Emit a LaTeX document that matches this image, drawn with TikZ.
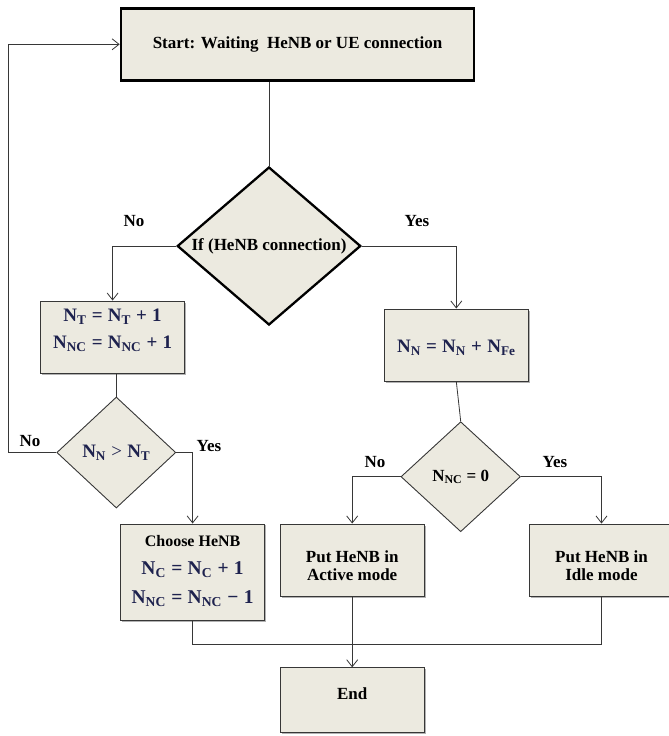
\documentclass[tikz,border=0pt]{standalone}
\usepackage{fontspec}
\setmainfont{Liberation Serif}
\newfontfamily\eqfont[WordSpace=1.1]{Liberation Serif}
\usetikzlibrary{shapes.geometric,arrows.meta,shadows}
\definecolor{boxfill}{RGB}{236,234,224}
\definecolor{edge}{RGB}{55,55,55}
\definecolor{eqcol}{RGB}{30,34,78}
\newcommand{\sbs}[1]{\textsubscript{#1}}

\begin{document}
\begin{tikzpicture}[x=1pt,y=-1pt,
  font=\fontsize{17}{20}\selectfont\bfseries,
  box/.style={rectangle, draw=edge, line width=0.9pt, fill=boxfill, inner sep=0pt,
    minimum width=144pt, minimum height=72pt,
    drop shadow={shadow xshift=1.5pt, shadow yshift=-1.5pt, opacity=0.3, fill=black}},
  startbox/.style={rectangle, draw=black, line width=2.6pt, fill=boxfill, inner sep=0pt},
  decision/.style={diamond, draw=edge, line width=0.9pt, fill=boxfill, inner sep=0pt},
  bigdecision/.style={decision, draw=black, line width=2.3pt},
  link/.style={draw=edge, line width=0.8pt},
  flow/.style={link, -{Straight Barb[length=7pt,width=11pt]}},
  eq/.style={font=\eqfont\fontsize{19}{23}\selectfont\bfseries, text=eqcol},
  bigeq/.style={font=\eqfont\fontsize{19.5}{23}\selectfont\bfseries, text=eqcol},
  txt/.style={font=\fontsize{17}{20}\selectfont\bfseries}
]
\useasboundingbox (0,0) rectangle (669,736);

% process boxes
\node[startbox, minimum width=353pt, minimum height=72pt] (start) at (297.5,44.3)
  {Start: Waiting\ \ HeNB or UE connection};

\node[bigdecision, minimum width=183.5pt, minimum height=158pt,
  label={[txt]center:{If (HeNB connection)}}] (d1) at (269,246) {};

\node[box, label={[eq, yshift=20pt]center:{N\sbs{T} = N\sbs{T} + 1}},
  label={[eq, yshift=-7pt]center:{N\sbs{NC} = N\sbs{NC} + 1}}] (nt) at (112.6,337) {};

\node[box, label={[eq, yshift=-3pt]center:{N\sbs{N} = N\sbs{N} + N\sbs{Fe}}}] (nn) at (456.3,345) {};

\node[decision, minimum width=119pt, minimum height=111pt,
  label={[eq, yshift=0pt]center:{N\sbs{N} {\mdseries >} N\sbs{T}}}] (d2) at (116.3,452.5) {};

\node[decision, minimum width=119.5pt, minimum height=110pt,
  label={[txt]center:{N\sbs{NC} = 0}}] (d3) at (460.7,476.7) {};

\node[box, minimum height=96.7pt,
  label={[txt, font=\fontsize{16}{19}\selectfont\bfseries, yshift=31pt]center:{Choose HeNB}},
  label={[bigeq, yshift=3pt]center:{N\sbs{C} = N\sbs{C} + 1}},
  label={[bigeq, yshift=-26pt]center:{N\sbs{NC} = N\sbs{NC} − 1}}] (choose) at (192.6,572.3) {};

\node[box, label={[txt, yshift=3pt]center:{Put HeNB in}},
  label={[txt, yshift=-15pt]center:{Active mode}}] (active) at (352.2,560) {};

\node[box, label={[txt, yshift=3pt]center:{Put HeNB in}},
  label={[txt, yshift=-15pt]center:{Idle mode}}] (idle) at (601.5,560) {};

\node[box, minimum height=65pt, label={[txt, yshift=7pt]center:{End}}] (end) at (352.2,700.3) {};

% helper coordinates for the routed connectors
\coordinate (loopx) at (8,0);
\coordinate (mergey) at (0,644);

% connectors
\draw[link] (d1.north |- start.south) -- (d1.north);
\draw[flow] (d1.west) -| (nt.north);
\draw[flow] (d1.east) -| (nn.north);
\draw[link] (d2.north |- nt.south) -- (d2.north);
\draw[link] (nn.south) -- (d3.north);
\draw[flow] (d2.west) -- (d2.west -| loopx) |- (start.west);
\draw[flow] (d2.east) -| (choose.north);
\draw[flow] (d3.west) -| (active.north);
\draw[flow] (d3.east) -| (idle.north);
\draw[link] (choose.south) -- (choose.south |- mergey) -| (idle.south);
\draw[flow] (active.south) -- (end.north);

% branch labels
\node[txt] (no1) at (134,221) {No};
\node[txt] (yes1) at (417,221) {Yes};
\node[txt] (no2) at (30,441) {No};
\node[txt] (yes2) at (209,446) {Yes};
\node[txt] (no3) at (375,462) {No};
\node[txt] (yes3) at (555,462) {Yes};
\end{tikzpicture}
\end{document}
